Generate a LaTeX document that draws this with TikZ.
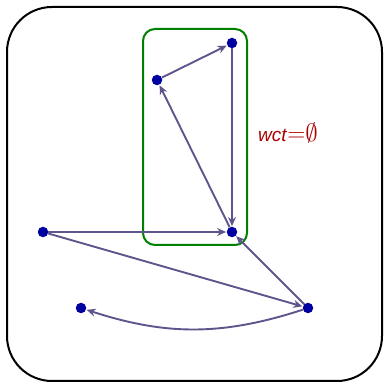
\documentclass[tikz,border=0pt]{standalone}
\usepackage{fontspec}
\setmainfont{Liberation Sans}
\usetikzlibrary{arrows.meta}
\definecolor{edgec}{RGB}{95,85,140}
\definecolor{nodec}{RGB}{0,0,160}
\definecolor{boxg}{RGB}{0,128,0}
\definecolor{labr}{RGB}{170,0,0}
\begin{document}
\begin{tikzpicture}[x=1pt,y=1pt,
  vert/.style={circle,fill=nodec,inner sep=0pt,minimum size=10.5pt},
  edge/.style={draw=edgec,line width=1.9pt,-{Stealth[length=9pt,width=8pt,inset=3pt]},shorten >=0.5pt}]
\useasboundingbox (0,0) rectangle (384,383);
\draw[line width=2pt,rounded corners=45pt] (7,2) rectangle (382,376);
\draw[boxg,line width=2pt,rounded corners=12pt] (143,138) rectangle (247,354);
\node[vert] (A) at (232,340) {};
\node[vert] (B) at (157,303) {};
\node[vert] (C) at (232,151) {};
\node[vert] (D) at (43,151) {};
\node[vert] (E) at (308,75) {};
\node[vert] (F) at (81,75) {};
\draw[edge] (A) -- (C);
\draw[edge] (C) -- (B);
\draw[edge] (B) -- (A);
\draw[edge] (D) -- (C);
\draw[edge] (D) -- (E);
\draw[edge] (E) -- (C);
\draw[edge] (E) to[bend left=18] (F);
\node[labr,font=\fontsize{19}{22}\selectfont,inner sep=0pt] (L) at (288,250) {\textit{wct}{\fontsize{25}{28}\selectfont$\mathord{=}\emptyset$}};
\end{tikzpicture}
\end{document}
